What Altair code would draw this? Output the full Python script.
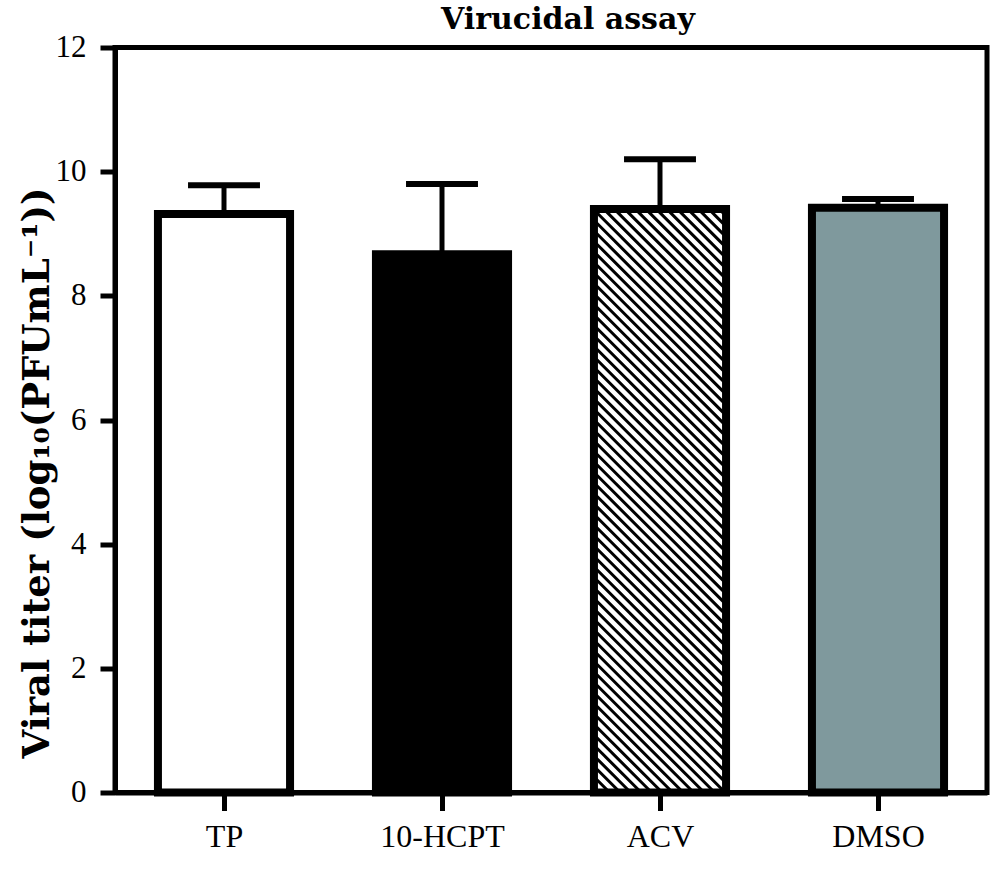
import altair as alt
import numpy as np
import pandas as pd

# Viral titer after virucidal treatment, mean with upper SD
categories = ["TP", "10-HCPT", "ACV", "DMSO"]
titer_mean = [9.32, 8.67, 9.40, 9.42]
titer_err = [0.46, 1.13, 0.80, 0.14]
bar_fill = ["#ffffff", "#000000", "#ffffff", "#7f999d"]
hatched = ["ACV"]
y_ticks = [0, 2, 4, 6, 8, 10, 12]

W, H = 872, 745          # plot area in pixels
Y_MAX = 12
BAR_HALF = 0.303         # half bar width, in category units
CAP_HALF = 0.165         # half error-cap width, in category units
HATCH_STEP = 10.5        # horizontal spacing of the hatch lines, px

pos = np.arange(len(categories)) + 0.5
mean = np.array(titer_mean)
bars = pd.DataFrame({
    "cat": categories,
    "pos": pos,
    "left": pos - BAR_HALF,
    "right": pos + BAR_HALF,
    "mean": mean,
    "base": 0.0,
    "upper": mean + np.array(titer_err),
    "cap_l": pos - CAP_HALF,
    "cap_r": pos + CAP_HALF,
    "fill": bar_fill,
})

# diagonal hatching (top-left to bottom-right) clipped to each hatched bar
sx, sy = W / len(categories), H / Y_MAX
segs = []
for _, r in bars[bars["cat"].isin(hatched)].iterrows():
    x0, x1, hm = r["left"] * sx, r["right"] * sx, r["mean"] * sy
    for c in np.arange(x0 + HATCH_STEP / 2, x1 + hm, HATCH_STEP):
        xa, xb = max(x0, c - hm), min(x1, c)
        if xb - xa > 0.5:
            segs.append({"x": xa / sx, "y": (c - xa) / sy,
                         "x2": xb / sx, "y2": (c - xb) / sy})
hatch = pd.DataFrame(segs)

label_expr = "[" + ",".join("'%s'" % c for c in categories) + "][floor(datum.value)]"

x_scale = alt.Scale(domain=[0, len(categories)], nice=False, zero=False)
y_scale = alt.Scale(domain=[0, Y_MAX], nice=False)

x_axis = alt.Axis(
    values=list(pos), labelExpr=label_expr, title=None, grid=False,
    labelFont="Liberation Serif", labelFontSize=32, labelColor="black",
    labelBaseline="alphabetic", labelPadding=36, labelAngle=0,
    tickSize=18, tickWidth=5, tickColor="black",
    domainWidth=5, domainColor="black",
)
y_axis = alt.Axis(
    values=y_ticks, title="Viral titer (log₁₀(PFUmL⁻¹))", grid=False,
    titleFont="DejaVu Serif", titleFontSize=37, titleFontWeight="bold",
    titleColor="black", titleAngle=-90, titleAlign="center",
    titleBaseline="alphabetic", titleX=-67, titleY=425,
    labelFont="Liberation Serif", labelFontSize=31, labelColor="black",
    labelPadding=14, tickSize=15, tickWidth=5, tickColor="black",
    domainWidth=5, domainColor="black",
)

base = alt.Chart(bars)

stems = base.mark_rule(color="black", strokeWidth=5).encode(
    x=alt.X("pos:Q", scale=x_scale, axis=x_axis),
    y=alt.Y("mean:Q", scale=y_scale, axis=y_axis),
    y2="upper:Q",
)
caps = base.mark_rule(color="black", strokeWidth=6).encode(
    x=alt.X("cap_l:Q", scale=x_scale, axis=x_axis),
    x2="cap_r:Q",
    y=alt.Y("upper:Q", scale=y_scale, axis=y_axis),
)
fills = base.mark_rect().encode(
    x=alt.X("left:Q", scale=x_scale, axis=x_axis),
    x2="right:Q",
    y=alt.Y("mean:Q", scale=y_scale, axis=y_axis),
    y2="base:Q",
    fill=alt.Fill("fill:N", scale=None),
)
lines = alt.Chart(hatch).mark_rule(color="black", strokeWidth=3).encode(
    x=alt.X("x:Q", scale=x_scale, axis=x_axis),
    x2="x2:Q",
    y=alt.Y("y:Q", scale=y_scale, axis=y_axis),
    y2="y2:Q",
)
outlines = base.mark_rect(fillOpacity=0, stroke="black", strokeWidth=8).encode(
    x=alt.X("left:Q", scale=x_scale, axis=x_axis),
    x2="right:Q",
    y=alt.Y("mean:Q", scale=y_scale, axis=y_axis),
    y2="base:Q",
)

chart = alt.layer(stems, caps, fills, lines, outlines).properties(
    width=W,
    height=H,
    autosize=alt.AutoSizeParams(type="none"),
    padding={"left": 115, "top": 47.5, "right": 12.5, "bottom": 83.5},
    title=alt.Title(
        "Virucidal assay", font="DejaVu Serif", fontSize=30,
        fontWeight="bold", color="black", anchor="middle", dx=17, dy=32,
        baseline="alphabetic", offset=5,
    ),
).configure_view(stroke="black", strokeWidth=5)

chart.save("out.html", embed_options={"renderer": "svg", "actions": False})
